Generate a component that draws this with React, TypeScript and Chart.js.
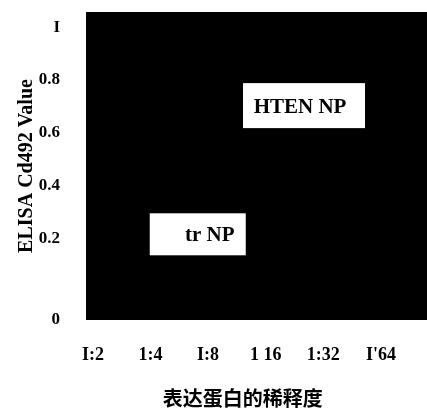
import { useEffect, useRef } from "react";
import { Chart, registerables } from "chart.js";

Chart.register(...registerables);

// ---- data ----
const dilutionLabels = ["I:2", "1:4", "I:8", "1 16", "1:32", "I'64"];
const dilutionPositions = [0, 1, 2, 3, 4, 5];
const yTickValues = [-0.11, 0.2, 0.4, 0.6, 0.8, 1.0];
const yTickLabels = ["0", "0.2", "0.4", "0.6", "0.8", "I"];
const groupNames = ["tr NP", "HTEN NP"];
const groupX = [1.82, 3.665];
const groupY = [0.215, 0.703];
const xTitle = "表达蛋白的稀释度";
const yTitle = "ELISA Cd492 Value";

// ---- styling ----
const SERIF = "'Liberation Serif', 'Times New Roman', serif";
const CJK = "'Noto Sans CJK SC', sans-serif";
const boxW = [96, 122];
const boxH = [42, 45];
const textDx = [12, -4];
const textDy = [1, 2];

const plotPlugin = {
  id: "plotDecor",
  beforeDraw(chart: any) {
    const { ctx, chartArea } = chart;
    ctx.save();
    ctx.fillStyle = "#000";
    ctx.fillRect(chartArea.left, chartArea.top, chartArea.right - chartArea.left, chartArea.bottom - chartArea.top);
    ctx.restore();
  },
  afterDatasetsDraw(chart: any) {
    const { ctx } = chart;
    const meta = chart.getDatasetMeta(0);
    ctx.save();
    meta.data.forEach((pt: any, i: number) => {
      const cx = pt.x;
      const cy = pt.y;
      ctx.fillStyle = "#fff";
      ctx.fillRect(cx - boxW[i] / 2, cy - boxH[i] / 2, boxW[i], boxH[i]);
      ctx.fillStyle = "#000";
      ctx.font = `bold 21px ${SERIF}`;
      ctx.textAlign = "center";
      ctx.textBaseline = "middle";
      ctx.fillText(groupNames[i], cx + textDx[i], cy + textDy[i]);
    });
    ctx.restore();
  },
  afterDraw(chart: any) {
    const { ctx } = chart;
    const xs = chart.scales.x;
    ctx.save();
    ctx.fillStyle = "#000";
    ctx.font = `bold 20px ${CJK}`;
    ctx.textAlign = "center";
    ctx.textBaseline = "middle";
    ctx.fillText(xTitle, xs.getPixelForValue(2.6), chart.height - 10);
    ctx.restore();
  },
};

export default function App() {
  const ref = useRef<HTMLCanvasElement | null>(null);

  useEffect(() => {
    document.body.style.margin = "0";
    const canvas = ref.current;
    if (!canvas) return;
    const chart = new Chart(canvas, {
      type: "scatter",
      data: {
        datasets: [
          {
            label: "groups",
            data: groupX.map((x, i) => ({ x, y: groupY[i] })),
            pointRadius: 0,
            pointHoverRadius: 0,
          },
        ],
      },
      options: {
        responsive: false,
        animation: false,
        layout: { padding: { top: 12, right: 0, left: 0, bottom: 0 } },
        plugins: {
          legend: { display: false },
          tooltip: { enabled: false },
          title: { display: false },
        },
        scales: {
          x: {
            type: "linear",
            min: -0.12,
            max: 5.8,
            afterBuildTicks: (scale: any) => {
              scale.ticks = dilutionPositions.map((v) => ({ value: v }));
            },
            afterFit: (scale: any) => {
              scale.height = 88;
              scale.paddingLeft = 0;
              scale.paddingRight = 0;
            },
            grid: { display: false, drawTicks: false },
            border: { display: false },
            ticks: {
              autoSkip: false,
              maxRotation: 0,
              padding: 25,
              color: "#000",
              font: { family: SERIF, size: 18, weight: "bold" },
              callback: (_v: any, i: number) => dilutionLabels[i],
            },
          },
          y: {
            type: "linear",
            min: -0.11,
            max: 1.058,
            afterBuildTicks: (scale: any) => {
              scale.ticks = yTickValues.map((v) => ({ value: v }));
            },
            afterFit: (scale: any) => {
              scale.width = 86;
              scale.paddingTop = 0;
              scale.paddingBottom = 0;
            },
            grid: { display: false, drawTicks: false },
            border: { display: false },
            title: {
              display: true,
              text: yTitle,
              color: "#000",
              font: { family: SERIF, size: 20, weight: "bold" },
              padding: { top: 15, bottom: 0 },
            },
            ticks: {
              autoSkip: false,
              padding: 26,
              color: "#000",
              font: { family: SERIF, size: 17, weight: "bold" },
              callback: (_v: any, i: number) => yTickLabels[i],
            },
          },
        },
      },
      plugins: [plotPlugin],
    } as any);
    return () => chart.destroy();
  }, []);

  return (
    <div style={{ position: "absolute", left: 0, top: 0, width: 427, height: 408, background: "#fff" }}>
      <canvas ref={ref} width={427} height={408} />
    </div>
  );
}
